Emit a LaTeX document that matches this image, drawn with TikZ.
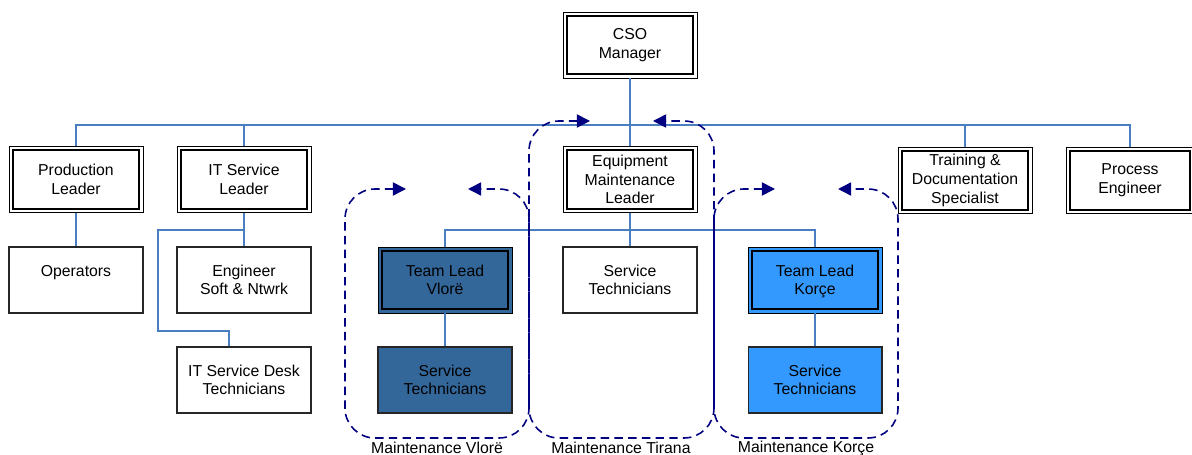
\documentclass[tikz,border=0pt]{standalone}
\usepackage{fontspec}
\setmainfont{Liberation Sans}
\usetikzlibrary{arrows.meta}
\definecolor{linkblue}{RGB}{74,126,193}
\definecolor{loopnavy}{RGB}{0,0,128}
\definecolor{vlorefill}{RGB}{51,102,153}
\definecolor{korcefill}{RGB}{51,153,255}

\begin{document}
\begin{tikzpicture}[x=0.02cm, y=-0.02cm, >={Triangle[length=7.5pt,width=7.5pt]},
    box/.style={draw=black!85, line width=0.6pt, minimum width=2.68cm, minimum height=1.32cm,
      align=center, inner sep=0pt, font=\fontsize{9}{10.6}\selectfont},
    lead/.style={box, draw=black, line width=0.5pt,
      path picture={\draw[line width=1.1pt] ([shift={(2.2pt,-2.2pt)}]path picture bounding box.north west)
        rectangle ([shift={(-2.2pt,2.2pt)}]path picture bounding box.south east);}},
    link/.style={linkblue, line width=0.7pt},
    site/.style={loopnavy, line width=0.9pt, dash pattern=on 4.8pt off 3pt, rounded corners=0.6cm, <->},
    sitename/.style={font=\fontsize{9}{10.6}\selectfont}]
    \useasboundingbox (0,0) rectangle (1192,455);

    % top levels
    \node[lead] (cso) at (630,45) {CSO\\Manager};
    \node[lead] (prod) at (76,179.5) {Production\\Leader};
    \node[lead] (itlead) at (244,179.5) {IT Service\\Leader};
    \node[lead] (equip) at (630,179.5) {Equipment\\Maintenance\\Leader};
    \node[lead] (train) at (965,180.5) {Training \&\\Documentation\\Specialist};
    \node[lead, minimum width=2.56cm] (proc) at (1130,180.5) {Process\\Engineer};

    % second and third row
    \node[box] (ops) at (76,280) {Operators\\\mbox{}};
    \node[box] (eng) at (244,280) {Engineer\\Soft \& Ntwrk};
    \node[box] (desk) at (244,380) {IT Service Desk\\Technicians};
    \node[lead, fill=vlorefill] (tlvlore) at (445,280) {Team Lead\\Vlorë};
    \node[box, fill=vlorefill] (stvlore) at (445,380) {Service\\Technicians};
    \node[box] (sttirana) at (630,280) {Service\\Technicians};
    \node[lead, fill=korcefill] (tlkorce) at (815,280) {Team Lead\\Kor\smash{ç}e};
    \node[box, fill=korcefill] (stkorce) at (815,380) {Service\\Technicians};

    % connectors
    \coordinate (bus) at (630,125);
    \coordinate (itbar) at (244,230);
    \coordinate (eqbar) at (630,230);
    \draw[link] (cso) -- (equip);
    \draw[link] (prod.north) |- (bus) -| (proc.north);
    \draw[link] (itlead.north) -- (itlead.north |- bus);
    \draw[link] (train.north) -- (train.north |- bus);
    \draw[link] (prod) -- (ops);
    \draw[link] (itlead) -- (eng);
    \draw[link] (itbar) -- (158,230) -- (158,331) -| ([xshift=-0.3cm]desk.north);
    \draw[link] (equip) -- (sttirana);
    \draw[link] (tlvlore.north) |- (eqbar) -| (tlkorce.north);
    \draw[link] (tlvlore) -- (stvlore);
    \draw[link] (tlkorce) -- (stkorce);

    % maintenance sites
    \draw[site] (406,189) -- (345,189) -- (345,438) -- (529,438) -- (529,189) -- (468,189);
    \draw[site] (590,121) -- (529,121) -- (529,438) -- (714,438) -- (714,121) -- (653,121);
    \draw[site] (775,189) -- (714,189) -- (714,438) -- (898,438) -- (898,189) -- (838,189);
    \node[sitename] (mvlore) at (437,448) {Maintenance Vlorë};
    \node[sitename] (mtirana) at (621,448) {Maintenance Tirana};
    \node[sitename] (mkorce) at (806,448) {Maintenance Korçe};
\end{tikzpicture}
\end{document}
